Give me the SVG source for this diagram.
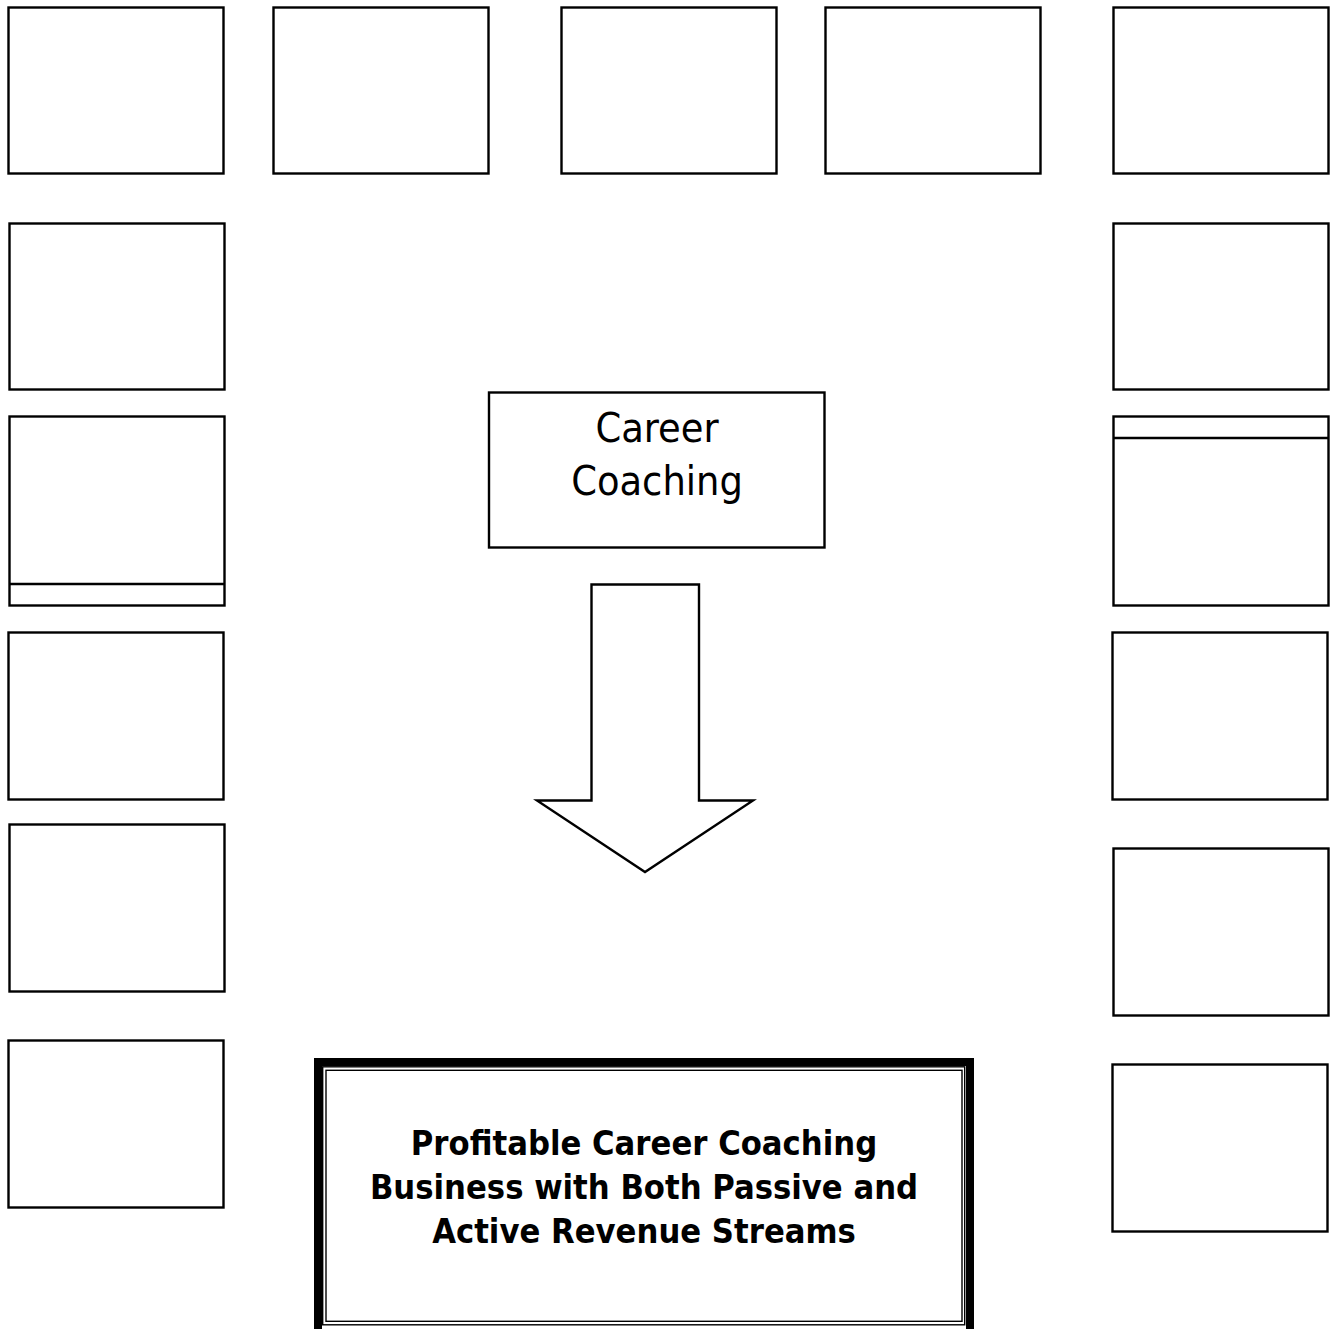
<svg xmlns="http://www.w3.org/2000/svg" width="1331" height="1329" viewBox="0 0 1331 1329">
<style>
.box{fill:#fff;stroke:#000;stroke-width:2.4}
.thin{fill:none;stroke:#000;stroke-width:1.4}
.t{font-family:"DejaVu Sans Condensed","DejaVu Sans",sans-serif;font-stretch:condensed;text-anchor:middle;fill:#000}
</style>
<rect width="1331" height="1329" fill="#fff"/>
<g id="top-row">
<rect id="t1" class="box" x="8.5" y="7.5" width="215" height="166"/>
<rect id="t2" class="box" x="273.5" y="7.5" width="215" height="166"/>
<rect id="t3" class="box" x="561.5" y="7.5" width="215" height="166"/>
<rect id="t4" class="box" x="825.5" y="7.5" width="215" height="166"/>
<rect id="t5" class="box" x="1113.5" y="7.5" width="215" height="166"/>
</g>
<g id="left-col">
<rect id="l1" class="box" x="9.5" y="223.5" width="215" height="166"/>
<g id="l2"><rect class="box" x="9.5" y="416.5" width="215" height="189"/><line class="box" x1="9.5" y1="584" x2="224.5" y2="584"/></g>
<rect id="l3" class="box" x="8.5" y="632.5" width="215" height="167"/>
<rect id="l4" class="box" x="9.5" y="824.5" width="215" height="167"/>
<rect id="l5" class="box" x="8.5" y="1040.5" width="215" height="167"/>
</g>
<g id="right-col">
<rect id="r1" class="box" x="1113.5" y="223.5" width="215" height="166"/>
<g id="r2"><rect class="box" x="1113.5" y="416.5" width="215" height="189"/><line class="box" x1="1113.5" y1="438" x2="1328.5" y2="438"/></g>
<rect id="r3" class="box" x="1112.5" y="632.5" width="215" height="167"/>
<rect id="r4" class="box" x="1113.5" y="848.5" width="215" height="167"/>
<rect id="r5" class="box" x="1112.5" y="1064.5" width="215" height="167"/>
</g>
<g id="career">
<rect class="box" x="489" y="392.5" width="335.5" height="155"/>
<text class="t" x="657" y="442" font-size="41">Career</text>
<text class="t" x="657" y="495" font-size="41">Coaching</text>
</g>
<g id="connectors">
<polygon class="box" points="591.5,584.5 699,584.5 699,800.5 753,800.5 645,872 537,800.5 591.5,800.5"/>
</g>
<g id="goal">
<rect x="318" y="1062" width="652" height="273" fill="#fff" stroke="#000" stroke-width="8"/>
<rect class="thin" x="322.7" y="1066.8" width="642" height="258"/>
<rect class="thin" x="326" y="1070.3" width="636" height="251"/>
<text class="t" x="644" y="1155" font-size="34.2" font-weight="bold">Profitable Career Coaching</text>
<text class="t" x="644" y="1199" font-size="34.2" font-weight="bold">Business with Both Passive and</text>
<text class="t" x="644" y="1243" font-size="34.2" font-weight="bold">Active Revenue Streams</text>
</g>
</svg>
